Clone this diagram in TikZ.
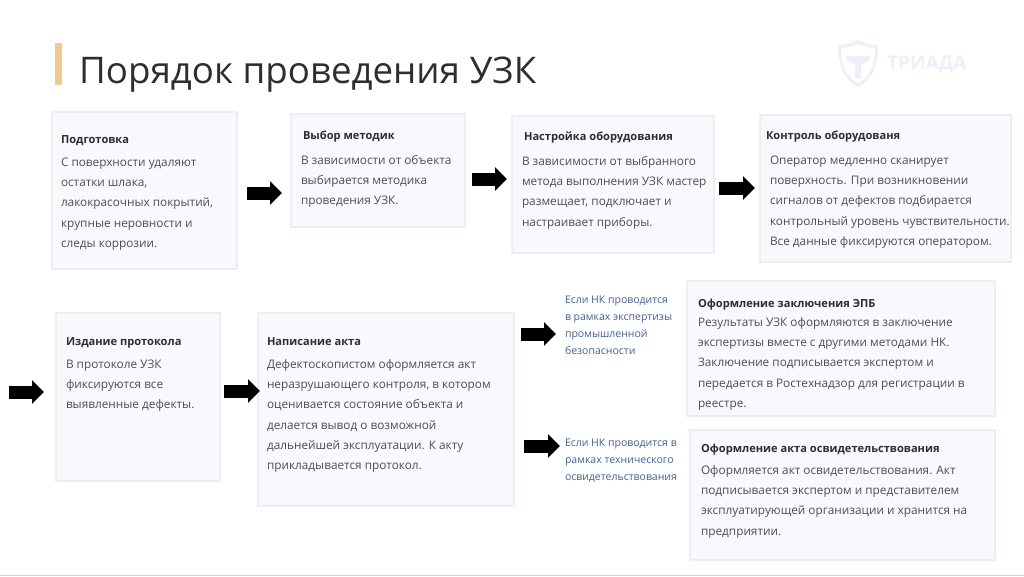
\documentclass[tikz,border=0pt]{standalone}
\usepackage{fontspec}
\setmainfont{Open Sans}
\usetikzlibrary{arrows.meta}
\definecolor{boxfill}{HTML}{F8F9FD}
\definecolor{boxline}{HTML}{ECEEF5}
\definecolor{headcol}{HTML}{2C2E32}
\definecolor{bodycol}{HTML}{4C4E52}
\definecolor{condcol}{HTML}{465F8E}
\definecolor{barcol}{HTML}{F1CA8C}
\definecolor{logocol}{HTML}{EDF0F8}
\newcommand{\bx}[6]{\node[card,minimum width=#3pt-#1pt,minimum height=#4pt-#2pt] (#5) at ({(#1+#3)/2},{(#2+#4)/2}) {};}
\tikzset{
  card/.style={draw=boxline,fill=boxfill,line width=1.2pt,inner sep=0pt,outer sep=0pt},
  headtxt/.style={anchor=north west,inner sep=0pt,outer sep=0pt,align=left,text=headcol,font=\fontsize{11.1}{14}\selectfont\bfseries},
  bodytxt/.style={anchor=north west,inner sep=0pt,outer sep=0pt,align=left,text=bodycol,font=\fontsize{11.8}{20.35}\selectfont},
  condtxt/.style={anchor=north west,inner sep=0pt,outer sep=0pt,align=left,text=condcol,font=\fontsize{10.5}{17.25}\selectfont},
  blockarrow/.style={draw=black,line width=13pt,-{Triangle[length=12pt,width=23pt]}},
}
\newcommand{\fl}{\rule{0pt}{10pt}}
\begin{document}
\begin{tikzpicture}[x=1pt,y=-1pt]
\useasboundingbox (0,0) rectangle (1024,576);
% title
\fill[barcol] (55,43) rectangle (62,85);
\node[anchor=base west,inner sep=0pt,text=headcol,font=\fontsize{36.7}{40}\selectfont] (title) at (79,83) {Порядок проведения УЗК};
% logo
\path[fill=logocol] (858,40) .. controls (866,44) and (872,45) .. (878,45) .. controls (878,66) and (872,80) .. (858,87) .. controls (844,80) and (838,66) .. (838,45) .. controls (844,45) and (850,44) .. (858,40) -- cycle;
\path[fill=white] (858,44) .. controls (865,47) and (870,48) .. (875,48) .. controls (875,65) and (869,77) .. (858,83.5) .. controls (847,77) and (841,65) .. (841,48) .. controls (846,48) and (851,47) .. (858,44) -- cycle;
\path[fill=logocol] (846,56) -- (870,56) .. controls (870,62) and (866,64) .. (861,64) -- (861,78) -- (855,78) -- (855,64) .. controls (850,64) and (846,62) .. (846,56) -- cycle;
\node[anchor=base west,inner sep=0pt,text=logocol,font=\fontsize{19}{20}\selectfont\bfseries] (logo) at (887,69.5) {ТРИАДА};
% boxes
\bx{52}{112}{237}{269}{b1}{}
\bx{291}{114}{465}{227}{b2}{}
\bx{512}{116}{714}{253}{b3}{}
\bx{760}{115}{1011}{262}{b4}{}
\bx{56}{313}{220}{481}{b5}{}
\bx{258}{313}{514}{506}{b6}{}
\bx{687}{281}{995}{416}{b7}{}
\bx{690}{430}{995}{560}{b8}{}
% texts
\node[headtxt] (h1) at (61,133) {\fl Подготовка};
\node[bodytxt] (t1) at (61,156) {\fl С поверхности удаляют\\остатки шлака,\\лакокрасочных покрытий,\\крупные неровности и\\следы коррозии.};
\node[headtxt] (h2) at (303,129) {\fl Выбор методик};
\node[bodytxt] (t2) at (301,154) {\fl В зависимости от объекта\\выбирается методика\\проведения УЗК.};
\node[headtxt] (h3) at (524,130) {\fl Настройка оборудования};
\node[bodytxt] (t3) at (522,155) {\fl В зависимости от выбранного\\метода выполнения УЗК мастер\\размещает, подключает и\\настраивает приборы.};
\node[headtxt] (h4) at (766,129) {\fl Контроль оборудованя};
\node[bodytxt] (t4) at (770,154) {\fl Оператор медленно сканирует\\поверхность. При возникновении\\сигналов от дефектов подбирается\\контрольный уровень чувствительности.\\Все данные фиксируются оператором.};
\node[headtxt] (h5) at (66,335) {\fl Издание протокола};
\node[bodytxt] (t5) at (66,358) {\fl В протоколе УЗК\\фиксируются все\\выявленные дефекты.};
\node[headtxt] (h6) at (267,335) {\fl Написание акта};
\node[bodytxt] (t6) at (267,358) {\fl Дефектоскопистом оформляется акт\\неразрушающего контроля, в котором\\оценивается состояние объекта и\\делается вывод о возможной\\дальнейшей эксплуатации. К акту\\прикладывается протокол.};
\node[headtxt] (h7) at (698,297) {\fl Оформление заключения ЭПБ};
\node[bodytxt] (t7) at (698,316) {\fl Результаты УЗК оформляются в заключение\\экспертизы вместе с другими методами НК.\\Заключение подписывается экспертом и\\передается в Ростехнадзор для регистрации в\\реестре.};
\node[headtxt] (h8) at (701,442) {\fl Оформление акта освидетельствования};
\node[bodytxt] (t8) at (701,464) {\fl Оформляется акт освидетельствования. Акт\\подписывается экспертом и представителем\\эксплуатирующей организации и хранится на\\предприятии.};
\node[condtxt] (c1) at (565,293) {\fl Если НК проводится\\в рамках экспертизы\\промышленной\\безопасности};
\node[condtxt] (c2) at (565,436) {\fl Если НК проводится в\\рамках технического\\освидетельствования};
% arrows
\coordinate (start) at (9,392);
\draw[blockarrow] ([xshift=10pt,yshift=-2.5pt]b1.east) -- ([xshift=-9pt,yshift=-22.5pt]b2.west);
\draw[blockarrow] ([xshift=7pt,yshift=-8.5pt]b2.east) -- ([xshift=-5pt,yshift=5.5pt]b3.west);
\draw[blockarrow] ([xshift=5pt,yshift=-3.5pt]b3.east) -- ([xshift=-5pt,yshift=0.5pt]b4.west);
\draw[blockarrow] (start) -- ([xshift=-12pt,yshift=5pt]b5.west);
\draw[blockarrow] ([xshift=4pt,yshift=6pt]b5.east) -- ([xshift=2pt,yshift=18.5pt]b6.west);
\draw[blockarrow] ([xshift=7pt,yshift=75.5pt]b6.east) -- ([xshift=-9pt,yshift=-41pt]c1.north west);
\draw[blockarrow] ([xshift=10pt,yshift=-36.5pt]b6.east) -- ([xshift=-5pt,yshift=-10pt]c2.north west);
% bottom rule
\draw[line width=1pt,draw=black!18] (0,575.5) -- (1024,575.5);
\end{tikzpicture}
\end{document}
